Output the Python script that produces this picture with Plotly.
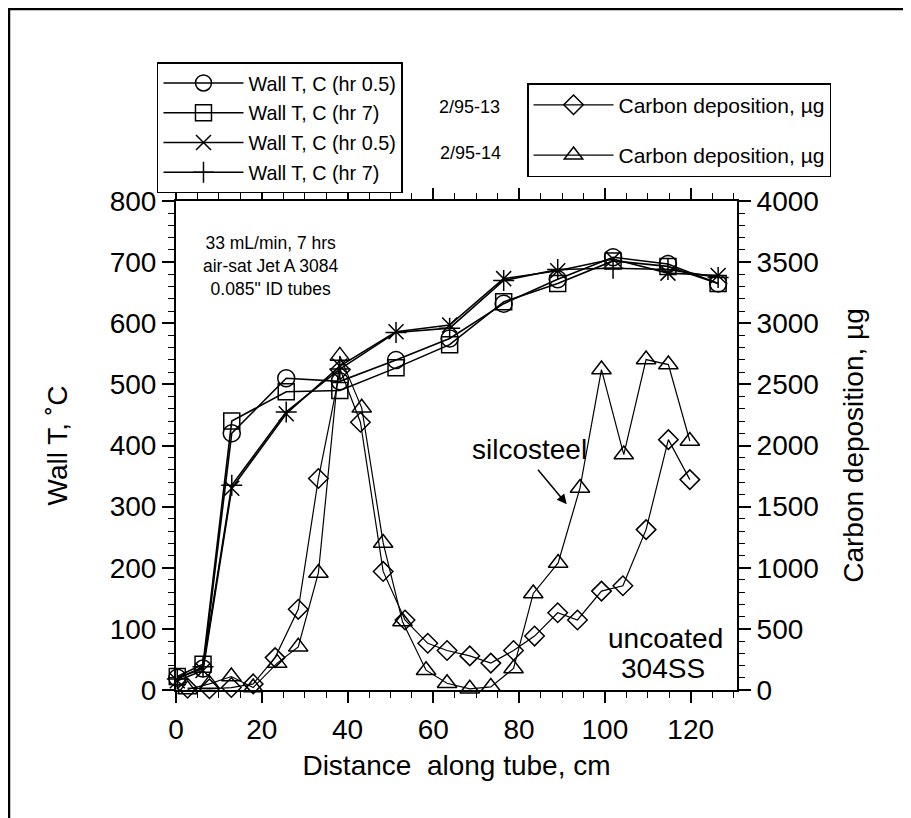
import plotly.graph_objects as go

# ---- data ----
wall_x = [0.3, 6.3, 13.0, 25.7, 38.2, 51.3, 63.8, 76.4, 89.0, 101.9, 114.7, 126.4]
wall_circle = [20, 35, 420, 510, 505, 540, 575, 632, 672, 708, 697, 665]   # 2/95-13, hr 0.5
wall_square = [22, 42, 440, 488, 490, 527, 565, 635, 665, 702, 693, 665]   # 2/95-13, hr 7
wall_x_mark = [15, 32, 330, 452, 530, 586, 597, 673, 686, 705, 682, 678]   # 2/95-14, hr 0.5
wall_plus = [18, 38, 335, 455, 525, 585, 592, 670, 688, 690, 688, 675]     # 2/95-14, hr 7

dia_x = [2.7, 7.8, 12.9, 18.0, 23.1, 28.5, 33.2, 38.3, 43.0, 48.3, 53.4, 58.7,
         63.2, 68.5, 73.4, 78.7, 83.6, 89.0, 93.6, 99.2, 104.2, 109.6, 114.8, 119.8]
dia_c = [15, 10, 20, 50, 265, 660, 1730, 2620, 2190, 970, 573, 382,
         323, 279, 220, 323, 441, 632, 573, 809, 853, 1312, 2048, 1721]   # 2/95-13 uncoated

tri_x = [2.7, 7.8, 12.9, 18.0, 23.6, 28.5, 33.2, 38.2, 43.3, 48.3, 52.8, 58.3,
         63.2, 68.5, 73.4, 78.7, 83.3, 89.1, 94.2, 99.2, 104.4, 109.6, 114.8, 119.8]
tri_c = [5, 50, 110, 20, 220, 353, 957, 2733, 2308, 1203, 560, 162,
         55, 10, 25, 176, 790, 1039, 1653, 2621, 1926, 2703, 2662, 2037]  # 2/95-14 silcosteel

FONT = "Liberation Sans, Arial, Helvetica, sans-serif"

fig = go.Figure()

wall_series = [
    ("Wall T, C (hr 0.5)", wall_circle, "circle-open", 17),
    ("Wall T, C (hr 7)", wall_square, "square-open", 16),
    ("Wall T, C (hr 0.5)", wall_x_mark, "x-thin-open", 15),
    ("Wall T, C (hr 7)", wall_plus, "cross-thin-open", 15),
]
for i, (name, ys, sym, sz) in enumerate(wall_series):
    fig.add_trace(go.Scatter(
        x=wall_x, y=ys, name=name, mode="lines+markers",
        line=dict(color="black", width=1.6),
        marker=dict(symbol=sym, size=sz, color="black",
                    line=dict(color="black", width=1.5)),
        cliponaxis=False, legend="legend", legendgroup="w%d" % i,
    ))

carbon_series = [
    ("Carbon deposition, µg", dia_x, dia_c, "diamond-open", 15),
    ("Carbon deposition, µg", tri_x, tri_c, "triangle-up-open", 17),
]
for i, (name, xs, ys, sym, sz) in enumerate(carbon_series):
    fig.add_trace(go.Scatter(
        x=xs, y=ys, name=name, mode="lines+markers", yaxis="y2",
        line=dict(color="black", width=1.2),
        marker=dict(symbol=sym, size=sz, color="black",
                    line=dict(color="black", width=1.5)),
        cliponaxis=False, legend="legend2", legendgroup="c%d" % i,
    ))

axis_common = dict(
    showline=True, linecolor="black", linewidth=2, showgrid=False, zeroline=False,
    ticks="outside", tickcolor="black", tickwidth=1.5,
    tickfont=dict(family=FONT, size=28, color="black"),
)

fig.update_layout(
    width=903, height=810,
    margin=dict(l=168, r=174, t=193, b=128),
    paper_bgcolor="white", plot_bgcolor="white",
    font=dict(family=FONT, color="black"),
    xaxis=dict(
        range=[0, 130.8], dtick=20, ticklen=11, mirror="ticks", ticklabelstandoff=2,
        minor=dict(dtick=5, ticklen=6, ticks="outside", tickcolor="black", tickwidth=1.2),
        title=dict(text="Distance  along tube, cm", font=dict(size=28), standoff=12),
        **axis_common,
    ),
    yaxis=dict(
        range=[0, 800], dtick=100, ticklen=12, ticklabelstandoff=0,
        minor=dict(dtick=20, ticklen=6, ticks="outside", tickcolor="black", tickwidth=1.2),
        title=dict(text="Wall T, ˚C", font=dict(size=28), standoff=34),
        **axis_common,
    ),
    yaxis2=dict(
        range=[0, 4000], dtick=500, ticklen=12, overlaying="y", side="right",
        minor=dict(dtick=100, ticklen=6, ticks="outside", tickcolor="black", tickwidth=1.2),
        title=dict(text="Carbon deposition, µg", font=dict(size=28), standoff=26),
        **axis_common,
    ),
    legend=dict(
        x=-0.0339, y=1.284, xanchor="left", yanchor="top",
        bgcolor="white", bordercolor="black", borderwidth=1.5,
        font=dict(family=FONT, size=19.8, color="black"),
        itemwidth=80, tracegroupgap=1, traceorder="grouped",
    ),
    legend2=dict(
        x=0.6257, y=1.241, xanchor="left", yanchor="top",
        bgcolor="white", bordercolor="black", borderwidth=1.5,
        font=dict(family=FONT, size=21, color="black"),
        itemwidth=80, tracegroupgap=20, traceorder="grouped",
    ),
    showlegend=True,
)

# text annotations
fig.add_annotation(x=22, y=694, xref="x", yref="y",
                   text="33 mL/min, 7 hrs<br>air-sat Jet A 3084<br>0.085\" ID tubes",
                   showarrow=False, align="center", font=dict(size=17.5))
fig.add_annotation(x=82.5, y=394, xref="x", yref="y", text="silcosteel",
                   showarrow=False, font=dict(size=28))
fig.add_annotation(x=91.1, y=304, xref="x", yref="y", text="", ax=-30, ay=-36,
                   showarrow=True, arrowhead=2, arrowsize=1.3, arrowwidth=1.5,
                   arrowcolor="black", standoff=0)
fig.add_annotation(x=114.2, y=83.5, xref="x", yref="y", text="uncoated",
                   showarrow=False, font=dict(size=28))
fig.add_annotation(x=113.6, y=34.4, xref="x", yref="y", text="304SS",
                   showarrow=False, font=dict(size=28))
fig.add_annotation(x=0.5223, y=1.1922, xref="paper", yref="paper", text="2/95-13",
                   xanchor="center", yanchor="middle",
                   showarrow=False, font=dict(size=18))
fig.add_annotation(x=0.5258, y=1.0982, xref="paper", yref="paper", text="2/95-14",
                   xanchor="center", yanchor="middle",
                   showarrow=False, font=dict(size=18))

# outer frame of the figure (bottom edge runs off the page, as in the scan)
fig.add_shape(type="rect", xref="paper", yref="paper",
              x0=-0.2977, x1=1.2995, y0=-0.32, y1=1.3926,
              line=dict(color="black", width=2.5), layer="below")

fig.write_html("out.html")
